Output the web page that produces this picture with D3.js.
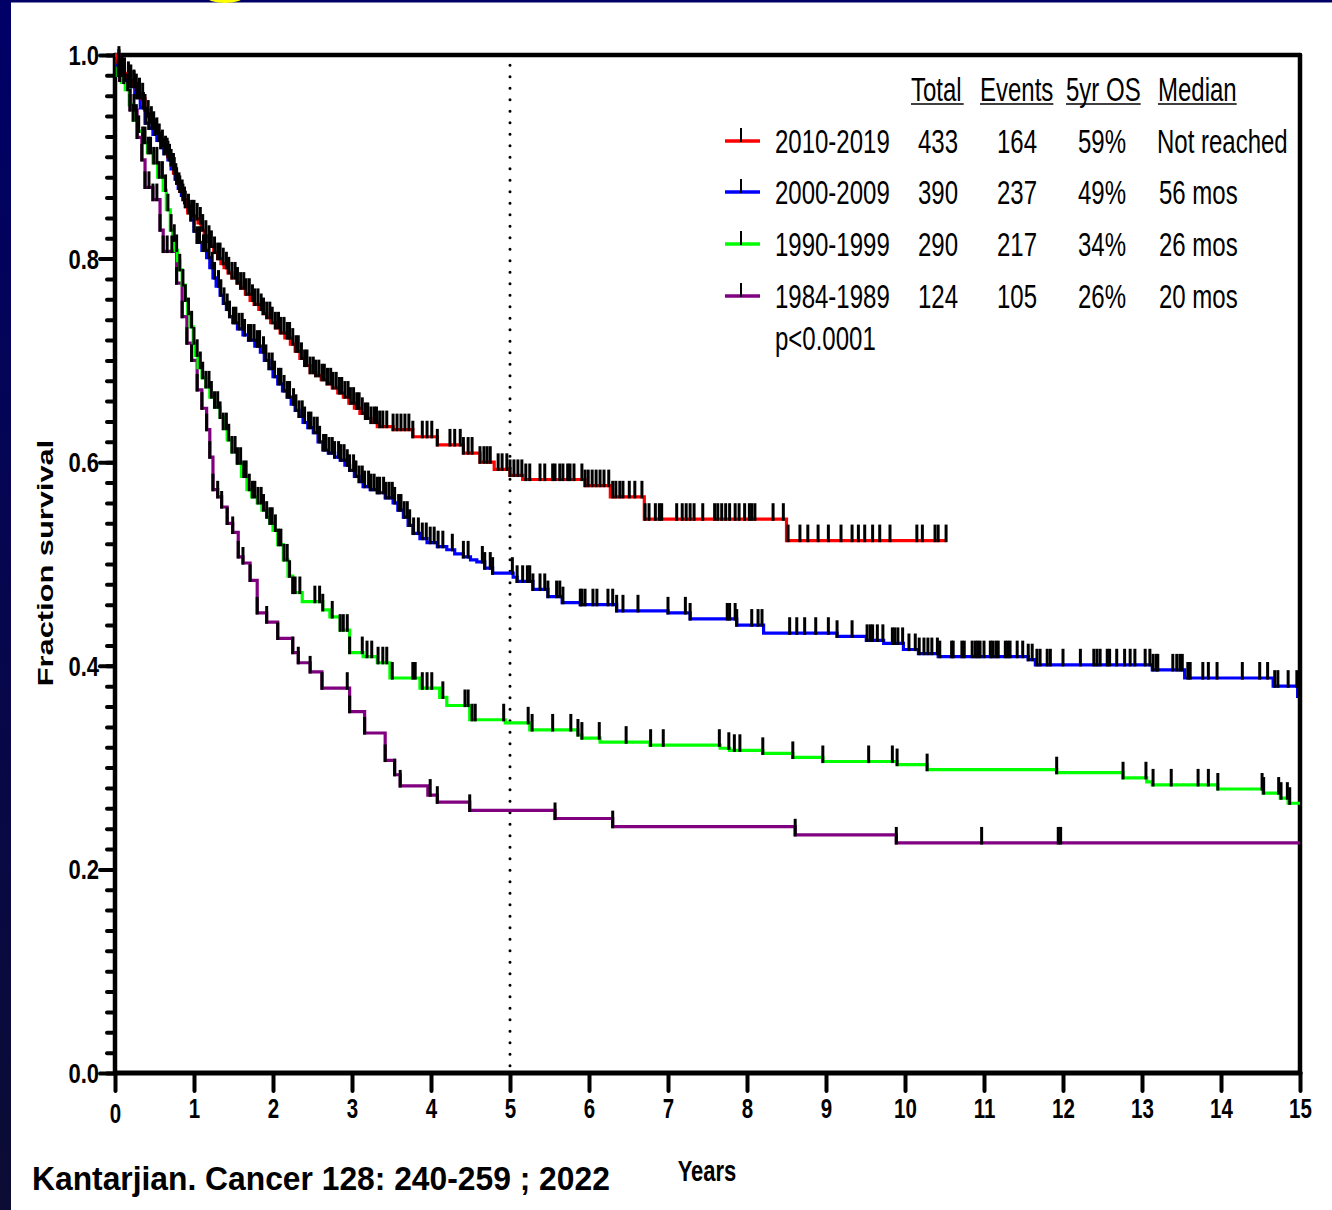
<!DOCTYPE html>
<html>
<head>
<meta charset="utf-8">
<script src="https://cdn.jsdelivr.net/npm/d3@7"></script>
<style>
  html, body { margin: 0; padding: 0; background: #ffffff; }
  svg { display: block; }
  text { font-family: "Liberation Sans", Arial, sans-serif; fill: #000; }
</style>
</head>
<body>
<svg id="chart" width="1332" height="1210"></svg>
<script>
// ---- Cohort table ----
const cohorts  = ["2010-2019", "2000-2009", "1990-1999", "1984-1989"];
const colors   = ["#ff0000", "#0000ff", "#00ff00", "#800080"];
const totals   = [433, 390, 290, 124];
const events   = [164, 237, 217, 105];
const os5yr    = ["59%", "49%", "34%", "26%"];
const medians  = ["Not reached", "56 mos", "26 mos", "20 mos"];
const headers  = ["Total", "Events", "5yr OS", "Median"];
const pValue   = "p<0.0001";

// ---- Axis ticks ----
const xTickValues = [0, 1, 2, 3, 4, 5, 6, 7, 8, 9, 10, 11, 12, 13, 14, 15];
const yMajorValues = [0, 0.2, 0.4, 0.6, 0.8, 1.0];
const yTickLabels = ["0.0", "0.2", "0.4", "0.6", "0.8", "1.0"];
const yMinorStep = 0.02;
const landmarkYear = 5;

// ---- Kaplan-Meier steps: [years, fraction surviving] ----
const surv2010 = [[0,1],[0.03,0.993],[0.06,0.985],[0.1,0.982],[0.15,0.978],[0.19,0.975],[0.23,0.97],
  [0.27,0.966],[0.31,0.962],[0.34,0.957],[0.38,0.946],[0.42,0.94],[0.45,0.934],[0.48,0.929],
  [0.52,0.923],[0.56,0.917],[0.6,0.911],[0.64,0.905],[0.67,0.9],[0.71,0.892],[0.74,0.884],
  [0.78,0.874],[0.82,0.866],[0.86,0.858],[0.89,0.851],[0.92,0.845],[0.97,0.842],[1.01,0.839],
  [1.05,0.835],[1.09,0.828],[1.13,0.822],[1.16,0.817],[1.2,0.812],[1.25,0.806],[1.3,0.8],
  [1.34,0.795],[1.38,0.791],[1.43,0.786],[1.48,0.781],[1.54,0.776],[1.59,0.771],[1.65,0.765],
  [1.71,0.759],[1.76,0.755],[1.82,0.75],[1.87,0.746],[1.92,0.742],[1.97,0.737],[2.03,0.732],
  [2.09,0.727],[2.15,0.722],[2.22,0.716],[2.28,0.709],[2.34,0.702],[2.4,0.695],[2.47,0.688],
  [2.54,0.685],[2.61,0.681],[2.68,0.677],[2.75,0.673],[2.82,0.668],[2.89,0.664],[2.96,0.658],
  [3.03,0.653],[3.1,0.648],[3.17,0.643],[3.24,0.639],[3.32,0.635],[3.52,0.632],[3.77,0.625],
  [4.08,0.617],[4.41,0.609],[4.62,0.6],[4.8,0.593],[5.0,0.587],[5.16,0.583],[5.95,0.577],
  [6.27,0.566],[6.7,0.544],[8.5,0.523],[10.52,0.523]];
const surv2000 = [[0,1],[0.03,0.99],[0.06,0.98],[0.12,0.975],[0.19,0.969],[0.25,0.958],[0.32,0.948],
  [0.38,0.933],[0.43,0.928],[0.48,0.922],[0.53,0.916],[0.58,0.909],[0.62,0.903],[0.67,0.897],
  [0.71,0.888],[0.76,0.878],[0.8,0.869],[0.84,0.862],[0.88,0.855],[0.92,0.848],[0.96,0.838],
  [1.0,0.827],[1.04,0.816],[1.1,0.808],[1.16,0.801],[1.2,0.791],[1.24,0.781],[1.28,0.773],
  [1.33,0.764],[1.37,0.756],[1.41,0.75],[1.45,0.743],[1.49,0.737],[1.55,0.731],[1.62,0.725],
  [1.69,0.72],[1.77,0.714],[1.84,0.708],[1.89,0.7],[1.95,0.692],[2.0,0.684],[2.06,0.677],
  [2.12,0.67],[2.18,0.664],[2.23,0.657],[2.28,0.651],[2.33,0.645],[2.38,0.639],[2.44,0.634],
  [2.51,0.629],[2.57,0.62],[2.63,0.612],[2.7,0.609],[2.78,0.605],[2.85,0.602],[2.91,0.597],
  [2.97,0.592],[3.03,0.586],[3.09,0.581],[3.14,0.576],[3.23,0.573],[3.32,0.57],[3.42,0.565],
  [3.52,0.56],[3.58,0.553],[3.65,0.546],[3.71,0.538],[3.77,0.53],[3.86,0.525],[3.95,0.521],
  [4.08,0.517],[4.2,0.514],[4.3,0.51],[4.41,0.507],[4.5,0.504],[4.58,0.502],[4.68,0.496],
  [4.78,0.491],[5.04,0.487],[5.09,0.483],[5.29,0.475],[5.48,0.468],[5.66,0.462],[5.89,0.46],
  [6.35,0.454],[7.0,0.452],[7.28,0.446],[7.87,0.44],[8.21,0.432],[9.14,0.429],[9.51,0.425],
  [9.73,0.422],[9.98,0.416],[10.17,0.412],[10.42,0.409],[11.56,0.406],[11.65,0.401],
  [13.13,0.396],[13.54,0.388],[14.66,0.38],[14.97,0.37],[15,0.37]];
const surv1990 = [[0,1],[0.03,0.98],[0.08,0.973],[0.13,0.966],[0.18,0.951],[0.23,0.936],[0.29,0.925],
  [0.35,0.914],[0.41,0.904],[0.48,0.894],[0.54,0.88],[0.61,0.867],[0.65,0.848],[0.7,0.828],
  [0.73,0.818],[0.76,0.808],[0.79,0.798],[0.82,0.789],[0.85,0.774],[0.89,0.759],[0.92,0.746],
  [0.95,0.733],[0.99,0.717],[1.02,0.705],[1.05,0.693],[1.1,0.683],[1.15,0.674],[1.2,0.664],
  [1.26,0.654],[1.33,0.644],[1.37,0.633],[1.42,0.622],[1.48,0.61],[1.54,0.599],[1.6,0.586],
  [1.67,0.573],[1.73,0.566],[1.8,0.56],[1.86,0.553],[1.92,0.546],[1.96,0.54],[2.0,0.533],
  [2.06,0.519],[2.13,0.504],[2.19,0.488],[2.25,0.472],[2.37,0.463],[2.63,0.455],[2.72,0.448],
  [2.85,0.435],[2.97,0.413],[3.14,0.409],[3.32,0.403],[3.48,0.388],[3.86,0.378],[4.11,0.369],
  [4.2,0.361],[4.49,0.347],[4.94,0.344],[5.25,0.337],[5.86,0.332],[5.91,0.329],[6.14,0.325],
  [6.77,0.322],[7.66,0.319],[7.78,0.317],[8.2,0.314],[8.58,0.31],[8.96,0.306],[9.9,0.303],
  [10.28,0.298],[11.92,0.295],[12.76,0.29],[13.06,0.286],[13.13,0.283],[13.96,0.279],
  [14.53,0.275],[14.75,0.27],[14.85,0.265],[15,0.265]];
const surv1984 = [[0,1],[0.06,0.975],[0.19,0.946],[0.28,0.919],[0.34,0.897],[0.38,0.87],[0.48,0.858],
  [0.57,0.828],[0.61,0.807],[0.78,0.776],[0.85,0.743],[0.91,0.717],[0.97,0.7],[1.04,0.671],
  [1.1,0.653],[1.16,0.632],[1.2,0.605],[1.24,0.573],[1.3,0.566],[1.35,0.556],[1.42,0.54],
  [1.49,0.531],[1.56,0.507],[1.62,0.501],[1.71,0.484],[1.8,0.452],[1.92,0.443],[2.06,0.427],
  [2.25,0.413],[2.32,0.403],[2.47,0.394],[2.62,0.378],[2.97,0.355],[3.16,0.334],[3.42,0.307],
  [3.54,0.293],[3.61,0.282],[3.96,0.273],[4.08,0.266],[4.49,0.258],[5.57,0.25],[6.3,0.242],
  [8.61,0.234],[9.89,0.226],[15,0.226]];

// ---- Censored observations (years) ----
const cens2010 = [0.05,0.09,0.12,0.17,0.2,0.24,0.27,0.31,0.35,0.38,0.42,0.46,0.49,0.53,0.56,0.6,0.64,
  0.67,0.71,0.75,0.78,0.82,0.86,0.89,0.93,0.97,1.0,1.04,1.08,1.11,1.15,1.19,1.22,1.26,1.3,1.33,
  1.37,1.41,1.44,1.48,1.52,1.55,1.59,1.63,1.66,1.7,1.74,1.77,1.81,1.85,1.88,1.92,1.96,1.99,2.03,
  2.07,2.1,2.14,2.18,2.21,2.25,2.29,2.32,2.36,2.4,2.43,2.47,2.51,2.54,2.58,2.62,2.65,2.69,2.73,
  2.76,2.8,2.84,2.87,2.91,2.95,2.98,3.02,3.06,3.09,3.13,3.17,3.2,3.24,3.28,3.31,3.35,3.39,3.44,
  3.52,3.57,3.62,3.67,3.72,3.77,3.89,3.95,4.01,4.08,4.24,4.3,4.37,4.41,4.47,4.52,4.62,4.67,4.71,
  4.75,4.85,4.9,4.96,5.0,5.05,5.1,5.15,5.2,5.25,5.38,5.44,5.54,5.57,5.63,5.67,5.73,5.76,5.81,
  5.91,5.95,5.99,6.04,6.09,6.14,6.19,6.25,6.3,6.34,6.39,6.43,6.51,6.58,6.67,6.71,6.76,6.84,6.89,
  6.92,7.11,7.18,7.23,7.28,7.33,7.44,7.59,7.63,7.68,7.73,7.78,7.85,7.9,7.97,8.03,8.06,8.1,8.33,
  8.46,8.52,8.67,8.77,8.9,9.03,9.19,9.33,9.41,9.49,9.59,9.68,9.81,10.15,10.22,10.38,10.42,10.52];
const cens2000 = [0.05,0.08,0.12,0.17,0.2,0.24,0.28,0.31,0.36,0.39,0.43,0.47,0.5,0.55,0.58,0.62,0.66,
  0.69,0.74,0.77,0.81,0.85,0.88,0.93,0.96,1.0,1.04,1.07,1.12,1.15,1.19,1.23,1.26,1.31,1.34,1.38,
  1.42,1.45,1.5,1.53,1.57,1.61,1.64,1.69,1.72,1.76,1.8,1.83,1.88,1.91,1.95,1.99,2.02,2.07,2.1,
  2.14,2.18,2.21,2.26,2.29,2.33,2.37,2.4,2.45,2.48,2.52,2.56,2.59,2.64,2.67,2.71,2.75,2.78,2.83,
  2.86,2.9,2.94,2.97,3.02,3.05,3.09,3.13,3.16,3.21,3.24,3.28,3.32,3.35,3.4,3.43,3.47,3.51,3.54,
  3.59,3.62,3.66,3.7,3.73,3.78,3.84,3.89,3.94,3.99,4.04,4.09,4.15,4.27,4.41,4.47,4.65,4.68,4.75,
  4.78,5.03,5.09,5.16,5.22,5.25,5.29,5.38,5.44,5.48,5.59,5.63,5.67,5.89,5.91,5.95,6.05,6.1,6.24,
  6.3,6.35,6.43,6.62,7.0,7.22,7.28,7.75,7.78,7.85,7.87,8.06,8.14,8.19,8.54,8.63,8.73,8.87,9.03,
  9.14,9.33,9.52,9.56,9.59,9.65,9.72,9.84,9.87,9.91,9.97,10.05,10.13,10.18,10.24,10.29,10.34,
  10.41,10.44,10.59,10.61,10.72,10.75,10.85,10.89,10.92,10.95,11.0,11.08,11.11,11.15,11.18,
  11.27,11.3,11.33,11.42,11.49,11.56,11.61,11.67,11.71,11.8,11.84,12.0,12.22,12.39,12.43,12.47,
  12.56,12.59,12.68,12.78,12.85,12.91,13.04,13.1,13.14,13.18,13.2,13.39,13.44,13.48,13.51,13.58,
  13.61,13.77,13.84,13.95,14.27,14.49,14.59,14.68,14.72,14.85,14.96,14.98];
const cens1990 = [0.04,0.07,0.11,0.16,0.19,0.23,0.27,0.3,0.35,0.38,0.42,0.45,0.49,0.53,0.56,0.6,0.64,
  0.67,0.71,0.75,0.78,0.82,0.86,0.89,0.93,0.97,1.0,1.04,1.08,1.11,1.15,1.19,1.22,1.26,1.3,1.33,
  1.37,1.41,1.44,1.48,1.52,1.55,1.59,1.63,1.66,1.7,1.74,1.77,1.81,1.85,1.88,1.92,1.96,1.99,2.03,
  2.07,2.1,2.14,2.18,2.21,2.25,2.28,2.34,2.53,2.59,2.63,2.75,2.85,2.89,2.94,2.97,3.13,3.19,3.25,
  3.33,3.39,3.44,3.51,3.77,3.8,3.89,3.95,4.01,4.15,4.43,4.47,4.52,4.56,4.92,5.23,5.28,5.54,5.77,
  5.86,5.91,6.13,6.47,6.78,6.94,7.65,7.77,7.84,7.91,8.2,8.58,8.96,9.54,9.84,9.9,10.28,11.92,
  12.76,13.05,13.14,13.37,13.71,13.84,13.96,14.52,14.54,14.73,14.76,14.84,14.87];
const cens1984 = [0.06,0.12,0.19,0.24,0.28,0.34,0.38,0.43,0.48,0.53,0.57,0.61,0.66,0.72,0.78,0.85,
  0.91,0.97,1.04,1.1,1.16,1.2,1.24,1.3,1.35,1.42,1.49,1.56,1.62,1.71,1.8,1.92,2.06,2.25,2.32,
  2.47,2.62,2.94,2.97,3.16,3.42,3.54,3.61,3.99,4.08,4.49,5.57,6.3,8.61,9.89,10.97,11.94,11.97];

const survival = [surv2010, surv2000, surv1990, surv1984];
const censored = [cens2010, cens2000, cens1990, cens1984];

// ---- Layout ----
const svg = d3.select("#chart");
const x = d3.scaleLinear().domain([0, 15]).range([115, 1300]);
const y = d3.scaleLinear().domain([0, 1]).range([1073, 55]);

// Slide frame (navy edges and a yellow accent at the top)
const defs = svg.append("defs");
const grad = defs.append("linearGradient").attr("id", "frameGrad")
  .attr("x1", 0).attr("y1", 0).attr("x2", 0).attr("y2", 1);
grad.append("stop").attr("offset", "0%").attr("stop-color", "#000068");
grad.append("stop").attr("offset", "100%").attr("stop-color", "#0c0c34");
svg.append("rect").attr("x", 0).attr("y", 0).attr("width", 11).attr("height", 1210).attr("fill", "url(#frameGrad)");
svg.append("rect").attr("x", 0).attr("y", 0).attr("width", 1332).attr("height", 2.5).attr("fill", "#000066");
svg.append("ellipse").attr("cx", 225).attr("cy", -3).attr("rx", 18).attr("ry", 6).attr("fill", "#ffff00");

// Text helper: fonts rendered with independent horizontal / vertical scaling
function label(parent, px, py, str, o = {}) {
  const t = parent.append("text")
    .attr("transform", `translate(${px},${py})${o.rotate ? ` rotate(${o.rotate})` : ""} scale(${o.sx || 1},${o.sy || 1})`)
    .attr("text-anchor", o.anchor || "start")
    .style("font-size", (o.size || 24) + "px")
    .style("font-weight", o.bold ? "bold" : "normal")
    .text(str);
  return t;
}

// ---- Axes ----
const axisG = svg.append("g");

// y minor ticks
const yMinor = d3.range(0, 1 + 1e-9, yMinorStep);
axisG.append("g").attr("transform", `translate(${x(0)},0)`)
  .call(d3.axisLeft(y).tickValues(yMinor).tickSize(8).tickFormat(""))
  .call(g => g.select(".domain").remove())
  .call(g => g.selectAll(".tick line").attr("stroke", "#000").attr("stroke-width", 4).attr("stroke-linecap", "round"));

// y major ticks + labels
axisG.append("g").attr("transform", `translate(${x(0)},0)`)
  .call(d3.axisLeft(y).tickValues(yMajorValues).tickSize(15).tickFormat((d, i) => yTickLabels[i]))
  .call(g => g.select(".domain").remove())
  .call(g => g.selectAll(".tick line").attr("stroke", "#000").attr("stroke-width", 4).attr("stroke-linecap", "round"))
  .call(g => g.selectAll(".tick text")
    .attr("x", null).attr("dy", null)
    .attr("transform", "translate(-16,9.5) scale(1,1.22)")
    .attr("text-anchor", "end")
    .style("font-size", "22px").style("font-weight", "bold")
    .style("font-family", "'Liberation Sans', Arial, sans-serif"));

// x ticks + labels
axisG.append("g").attr("transform", `translate(0,${y(0)})`)
  .call(d3.axisBottom(x).tickValues(xTickValues).tickSize(18).tickFormat(d3.format("d")))
  .call(g => g.select(".domain").remove())
  .call(g => g.selectAll(".tick line").attr("stroke", "#000").attr("stroke-width", 4).attr("stroke-linecap", "round"))
  .call(g => g.selectAll(".tick text")
    .attr("y", null).attr("dy", null)
    .attr("transform", d => `translate(0,${d === 0 ? 50 : 45}) scale(1,1.32)`)
    .style("font-size", "20.5px").style("font-weight", "bold")
    .style("font-family", "'Liberation Sans', Arial, sans-serif"));

// Frame lines around the plot area
const frame = svg.append("g").attr("stroke", "#000").attr("stroke-linecap", "round");
frame.append("line").attr("x1", x(0)).attr("x2", x(0)).attr("y1", y(1)).attr("y2", y(0)).attr("stroke-width", 4.5);
frame.append("line").attr("x1", x(0)).attr("x2", x(15)).attr("y1", y(0)).attr("y2", y(0)).attr("stroke-width", 5);
frame.append("line").attr("x1", x(0)).attr("x2", x(15)).attr("y1", y(1)).attr("y2", y(1)).attr("stroke-width", 4.5);
frame.append("line").attr("x1", x(15)).attr("x2", x(15)).attr("y1", y(1)).attr("y2", y(0)).attr("stroke-width", 4.5);

// 5-year landmark
svg.append("line")
  .attr("x1", x(landmarkYear)).attr("x2", x(landmarkYear))
  .attr("y1", y(0.99)).attr("y2", y(0))
  .attr("stroke", "#000").attr("stroke-width", 3)
  .attr("stroke-linecap", "round").attr("stroke-dasharray", "0.1,11.4");

// ---- Curves ----
const line = d3.line().x(d => x(d[0])).y(d => y(d[1])).curve(d3.curveStepAfter);
const curveG = svg.append("g");
for (let i = survival.length - 1; i >= 0; i--) {
  curveG.append("path").datum(survival[i])
    .attr("fill", "none").attr("stroke", colors[i]).attr("stroke-width", 3.2)
    .attr("d", line);
}

function survAt(steps, t) {
  let s = steps[0][1];
  for (const [ti, si] of steps) { if (ti <= t + 1e-9) s = si; else break; }
  return s;
}

const tickG = svg.append("g").attr("stroke", "#000").attr("stroke-width", 3);
censored.forEach((cs, i) => {
  tickG.append("g").selectAll("line")
    .data(cs.map(t => [t, survAt(survival[i], t)]))
    .join("line")
    .attr("x1", d => x(d[0])).attr("x2", d => x(d[0]))
    .attr("y1", d => y(d[1]) + 1.6).attr("y2", d => y(d[1]) - 16);
});

// ---- Legend table ----
const leg = svg.append("g");
const headerX = [911, 980, 1066, 1158];
headers.forEach((h, j) => {
  const t = label(leg, headerX[j], 101, h, { size: 24, sy: 1.4 });
  const w = t.node().getComputedTextLength();
  leg.append("line").attr("x1", headerX[j]).attr("x2", headerX[j] + w + (j === 0 ? 2 : 0))
    .attr("y1", 104).attr("y2", 104).attr("stroke", "#000").attr("stroke-width", 1.6);
});

const rowBase = [153, 204, 256, 308];
cohorts.forEach((c, i) => {
  const b = rowBase[i];
  leg.append("line").attr("x1", 725).attr("x2", 760).attr("y1", b - 12).attr("y2", b - 12)
    .attr("stroke", colors[i]).attr("stroke-width", 3.5);
  leg.append("line").attr("x1", 741).attr("x2", 741).attr("y1", b - 11).attr("y2", b - 25)
    .attr("stroke", "#000").attr("stroke-width", 2);
  label(leg, 775, b, c, { size: 24, sy: 1.4 });
  label(leg, 938, b, String(totals[i]), { size: 24, sy: 1.4, anchor: "middle" });
  label(leg, 1017, b, String(events[i]), { size: 24, sy: 1.4, anchor: "middle" });
  label(leg, 1102, b, os5yr[i], { size: 24, sy: 1.4, anchor: "middle" });
  label(leg, i === 0 ? 1157 : 1159, b, medians[i], { size: 24, sy: 1.4 });
});
label(leg, 775, 350, pValue, { size: 24, sy: 1.4 });

// ---- Axis titles and citation ----
label(svg, 53, 563, "Fraction survival", { size: 22, bold: true, rotate: -90, sx: 1.4, anchor: "middle" });
label(svg, 707, 1181, "Years", { size: 22, bold: true, sy: 1.37, anchor: "middle" });
label(svg, 32, 1190, "Kantarjian. Cancer 128: 240-259 ; 2022", { size: 31.8, bold: true, sy: 1.05 });
</script>
</body>
</html>
